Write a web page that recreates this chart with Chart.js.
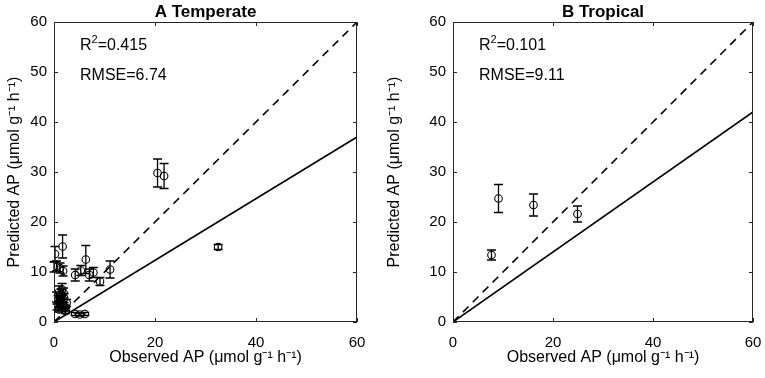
<!DOCTYPE html>
<html lang="en">
<head>
    <meta charset="UTF-8">
    <title>Predicted vs Observed AP</title>
    <script src="https://cdn.jsdelivr.net/npm/chart.js"></script>
    <style>
        body {
            margin: 0;
            padding: 0;
            background: white;
            overflow: hidden;
        }
        .panel {
            position: absolute;
            top: 0;
            height: 378px;
        }
        #panelA { left: 0; width: 380px; }
        #panelB { left: 380px; width: 385px; }
    </style>
</head>
<body>
    <div class="panel" id="panelA"><canvas id="chartA"></canvas></div>
    <div class="panel" id="panelB"><canvas id="chartB"></canvas></div>

    <script>
        // Panel A - temperate sites
        const tempObs  = [20.5, 21.8, 32.5, 0.2, 1.7, 0.0, 0.5, 1.2, 1.8, 6.3, 4.2, 5.3, 7.0, 7.8, 9.1, 11.1,
                          0.5, 0.8, 1.0, 1.2, 1.5, 1.3, 1.8, 2.0, 2.2, 1.0, 0.6, 1.6, 2.5, 1.9, 0.9, 2.3,
                          4.2, 5.1, 6.1];
        const tempPred = [29.8, 29.2, 15.0, 13.6, 15.1, 11.0, 11.2, 10.8, 10.2, 12.5, 9.4, 10.3, 9.4, 9.9, 8.1, 10.5,
                          5.0, 4.5, 6.0, 3.8, 5.5, 4.2, 3.2, 4.8, 2.8, 2.5, 3.0, 6.5, 3.8, 5.8, 3.5, 2.2,
                          1.6, 1.5, 1.6];
        const tempErr  = [2.8, 2.5, 0.5, 1.5, 2.3, 1.0, 1.0, 1.0, 1.0, 2.8, 1.2, 1.0, 1.2, 1.0, 0.8, 1.7,
                          1.0, 0.8, 1.2, 0.7, 1.0, 0.8, 0.6, 0.9, 0.6, 0.5, 0.6, 1.2, 0.7, 1.0, 0.6, 0.5,
                          0.3, 0.3, 0.3];

        // Panel B - tropical sites
        const tropObs  = [9.1, 16.1, 24.9, 7.7];
        const tropPred = [24.7, 23.4, 21.6, 13.4];
        const tropErr  = [2.8, 2.2, 1.6, 1.0];

        // fitted line end points at x = 60, and the 1:1 line
        const axisMax = 60;
        const tempFitEnd = 37;
        const tropFitEnd = 42;

        const FONT = '"Liberation Sans", Arial, Helvetica, sans-serif';

        const framePlugin = {
            id: 'frame',
            afterDatasetsDraw(chart) {
                const ctx = chart.ctx;
                const xs = chart.scales.x, ys = chart.scales.y;
                const opt = chart.options.plugins.frame;
                ctx.save();
                ctx.strokeStyle = '#000';
                ctx.lineWidth = 1.3;
                opt.obs.forEach((xv, i) => {
                    const px = xs.getPixelForValue(xv);
                    const top = ys.getPixelForValue(opt.pred[i] + opt.err[i]);
                    const bot = ys.getPixelForValue(opt.pred[i] - opt.err[i]);
                    ctx.beginPath();
                    ctx.moveTo(px, top); ctx.lineTo(px, bot);
                    ctx.moveTo(px - 4.5, top); ctx.lineTo(px + 4.5, top);
                    ctx.moveTo(px - 4.5, bot); ctx.lineTo(px + 4.5, bot);
                    ctx.stroke();
                });
                ctx.restore();
            },
            afterDraw(chart) {
                const ctx = chart.ctx;
                const a = chart.chartArea;
                const xs = chart.scales.x, ys = chart.scales.y;
                const opt = chart.options.plugins.frame;
                ctx.save();
                ctx.strokeStyle = '#262626';
                ctx.lineWidth = 1;
                ctx.strokeRect(a.left + 0.5, a.top + 0.5, a.right - a.left - 1, a.bottom - a.top - 1);
                ctx.beginPath();
                xs.ticks.forEach(t => {
                    const px = Math.round(xs.getPixelForValue(t.value)) + 0.5;
                    ctx.moveTo(px, a.bottom); ctx.lineTo(px, a.bottom - 4);
                    ctx.moveTo(px, a.top); ctx.lineTo(px, a.top + 4);
                });
                ys.ticks.forEach(t => {
                    const py = Math.round(ys.getPixelForValue(t.value)) + 0.5;
                    ctx.moveTo(a.left, py); ctx.lineTo(a.left + 4, py);
                    ctx.moveTo(a.right, py); ctx.lineTo(a.right - 4, py);
                });
                ctx.stroke();

                ctx.fillStyle = '#000';
                ctx.textAlign = 'center';
                ctx.textBaseline = 'middle';
                ctx.font = 'bold 17px ' + FONT;
                ctx.fillText(opt.title, (a.left + a.right) / 2, 12);

                // R^2 with a raised small 2
                ctx.textAlign = 'left';
                let x = a.left + 26;
                ctx.font = '16px ' + FONT;
                ctx.fillText('R', x, 46);
                x += ctx.measureText('R').width;
                ctx.font = '11px ' + FONT;
                ctx.fillText('2', x, 40);
                x += ctx.measureText('2').width;
                ctx.font = '16px ' + FONT;
                ctx.fillText(opt.r2, x, 46);
                ctx.fillText(opt.rmse, a.left + 26, 76);
                ctx.restore();
            }
        };

        function makeChart(id, obs, pred, err, fitEnd, title, r2, rmse, yWidth, rightPad) {
            const ctx = document.getElementById(id).getContext('2d');
            return new Chart(ctx, {
                type: 'scatter',
                data: {
                    datasets: [
                        {
                            type: 'line',
                            data: [{ x: 0, y: 0 }, { x: axisMax, y: axisMax }],
                            borderColor: '#000',
                            borderWidth: 1.6,
                            borderDash: [8, 6],
                            pointRadius: 0
                        },
                        {
                            type: 'line',
                            data: [{ x: 0, y: 0 }, { x: axisMax, y: fitEnd }],
                            borderColor: '#000',
                            borderWidth: 1.6,
                            pointRadius: 0
                        },
                        {
                            data: obs.map((x, i) => ({ x: x, y: pred[i] })),
                            pointStyle: 'circle',
                            pointRadius: 3.8,
                            borderColor: '#000',
                            borderWidth: 1.1,
                            backgroundColor: 'rgba(0,0,0,0)'
                        }
                    ]
                },
                options: {
                    responsive: true,
                    maintainAspectRatio: false,
                    animation: false,
                    layout: { padding: { top: 22, right: rightPad, left: 0, bottom: 0 } },
                    plugins: {
                        legend: { display: false },
                        tooltip: { enabled: false },
                        frame: { obs: obs, pred: pred, err: err, title: title, r2: r2, rmse: rmse }
                    },
                    scales: {
                        x: {
                            type: 'linear',
                            min: 0, max: axisMax,
                            grid: { display: false, drawTicks: false },
                            border: { display: false },
                            ticks: { stepSize: 20, color: '#000', padding: 12, font: { family: FONT, size: 15 } },
                            title: {
                                display: true,
                                text: 'Observed AP (μmol g⁻¹ h⁻¹)',
                                color: '#000',
                                font: { family: FONT, size: 16 },
                                padding: { top: 0, bottom: 11 }
                            },
                            afterFit: s => { s.height = 56; s.paddingLeft = 0; s.paddingRight = 0; }
                        },
                        y: {
                            type: 'linear',
                            min: 0, max: axisMax,
                            grid: { display: false, drawTicks: false },
                            border: { display: false },
                            ticks: { stepSize: 10, color: '#000', padding: 7, font: { family: FONT, size: 15 } },
                            title: {
                                display: true,
                                text: 'Predicted AP (μmol g⁻¹ h⁻¹)',
                                color: '#000',
                                font: { family: FONT, size: 16 },
                                padding: { top: 5, bottom: 0 }
                            },
                            afterFit: s => { s.width = yWidth; s.paddingTop = 0; s.paddingBottom = 0; }
                        }
                    }
                },
                plugins: [framePlugin]
            });
        }

        makeChart('chartA', tempObs, tempPred, tempErr, tempFitEnd, 'A Temperate', '=0.415', 'RMSE=6.74', 54, 23);
        makeChart('chartB', tropObs, tropPred, tropErr, tropFitEnd, 'B Tropical', '=0.101', 'RMSE=9.11', 73, 12);
    </script>
</body>
</html>
